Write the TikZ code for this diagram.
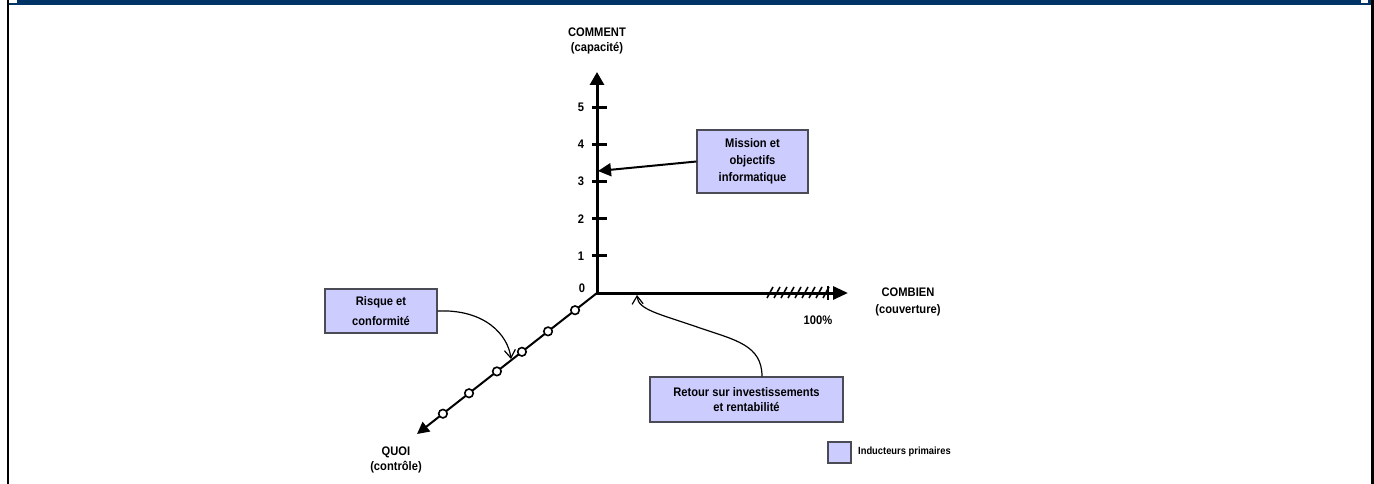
\documentclass[tikz,border=0pt]{standalone}
\usepackage{fontspec}
\setmainfont[FakeStretch=0.9]{Liberation Sans}
\usetikzlibrary{arrows.meta,calc}
\definecolor{band}{RGB}{0,51,102}
\definecolor{lav}{RGB}{204,204,255}
\definecolor{boxline}{RGB}{75,75,85}

\begin{document}
\begin{tikzpicture}[x=1pt,y=-1pt,
  lbl/.style={font=\fontsize{12.4}{15}\selectfont\bfseries, align=center, inner sep=0pt},
  drv/.style={draw=boxline, line width=1.2pt, fill=lav, align=center, inner sep=0pt,
              font=\fontsize{12.4}{17}\selectfont\bfseries},
  axis/.style={line width=3pt, line join=miter},
  fillhead/.style={-{Triangle[length=13pt,width=13pt]}},
  openhead/.style={-{Straight Barb[length=8pt,width=11pt]}},
  bead/.style={circle, draw, fill=white, line width=1.6pt, inner sep=0pt, minimum size=8.5pt}]
\useasboundingbox (0,0) rectangle (1374,484);

% frame and header band
\fill[band] (7,0) rectangle (1374,5);
\fill[white] (9,0) rectangle (17,3);
\fill[white] (1361,0) rectangle (1368,3);
\draw[line width=2pt] (7.7,0) -- (7.7,484);
\draw[line width=2.5pt] (1372.7,0) -- (1372.7,484);

% axes
\coordinate (o) at (597,293);
\coordinate (ytip) at (597,72);
\coordinate (xtip) at (848,293);
\coordinate (ztip) at (417,434);
\draw[axis, {Triangle[length=13pt,width=14pt]}-{Triangle[length=15pt,width=13pt]}] (ytip) -- (o) -- (xtip);
\draw[line width=2pt, -{Triangle[length=12pt,width=12pt]}] (o) -- (ztip);

% scale on the vertical axis
\foreach \i in {1,...,5}{
  \draw[line width=3pt] (592,293-37.1*\i) -- (607,293-37.1*\i);
  \node[lbl] (n\i) at (581,293-37.1*\i) {\i};
}
\node[lbl] (n0) at (582,288) {0};

% hatched end of the horizontal axis
\foreach \i in {0,...,8}
  \draw[line width=1.6pt] (767+7*\i,298) -- (773+7*\i,287);
\draw[line width=2pt] (828,286) -- (828,300);

% beads on the oblique axis
\foreach \t [count=\k] in {0.122,0.272,0.417,0.556,0.711,0.856}
  \node[bead] (c\k) at ($(o)!\t!(ztip)$) {};

% axis titles
\node[lbl] (comment) at (597,41) {COMMENT\\(capacité)};
\node[lbl, font=\fontsize{12.4}{17}\selectfont\bfseries] (combien) at (908,301.5) {COMBIEN\\(couverture)};
\node[lbl] (pct) at (818,320) {100\%};
\node[lbl] (quoi) at (396,459.5) {QUOI\\(contrôle)};

% driver boxes
\node[drv, font=\fontsize{12.4}{20}\selectfont\bfseries, minimum width=112pt, minimum height=44pt] (risk) at (381,311) {Risque et\\conformité};
\node[drv, minimum width=111pt, minimum height=63pt] (mission) at (752.5,161.5) {Mission et\\objectifs\\informatique};
\node[drv, font=\fontsize{12.4}{15}\selectfont\bfseries, minimum width=193pt, minimum height=45pt] (retour) at (746.5,399.5) {Retour sur investissements\\et rentabilité};

% legend
\node[drv, minimum width=23pt, minimum height=21pt] (legbox) at (839.5,452.5) {};
\node[lbl, font=\fontsize{10.4}{11}\selectfont\bfseries, anchor=west] (legtxt) at (858,452) {Inducteurs primaires};

% connectors from the boxes to the axes
\coordinate (rk) at (511,359);
\coordinate (m3) at (598,171);
\coordinate (rt) at (637,295);
\draw[line width=2pt, fillhead] (mission.west) -- (m3);
\draw[line width=1.2pt, openhead] (risk.east) .. controls (485,309) and (508,335) .. (rk);
\draw[line width=1.2pt, openhead] ($(retour.north)+(15.5,0)$) .. controls (762,345) and (735,340) .. (700,328)
  .. controls (660,314) and (638,310) .. (rt);
\end{tikzpicture}
\end{document}
